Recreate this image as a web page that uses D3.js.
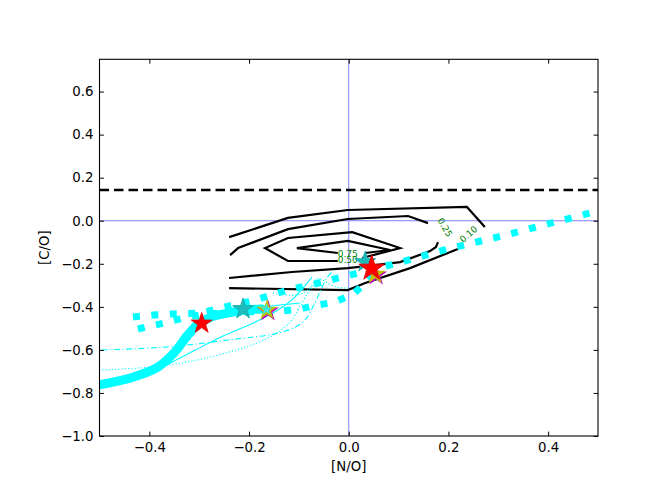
<!DOCTYPE html>
<html>
<head>
<meta charset="utf-8">
<script src="https://cdn.jsdelivr.net/npm/d3@7"></script>
<style>
  body { margin: 0; background: #fff; }
  text { font-family: "DejaVu Sans", sans-serif; }
</style>
</head>
<body>
<div id="chart"></div>
<script>
// ---- data ([N/O], [C/O]) ----
const xTicks = [-0.4, -0.2, 0.0, 0.2, 0.4]
const yTicks = [-1.0, -0.8, -0.6, -0.4, -0.2, 0.0, 0.2, 0.4, 0.6]
const solarCO = 0.143

// contour levels, each split where the label sits
const contour010 = [
  [[-0.240, -0.076], [-0.122, 0.013], [-0.002, 0.050], [0.237, 0.064], [0.273, -0.029]],
  [[0.219, -0.131], [0.123, -0.220], [0.033, -0.289], [-0.002, -0.322], [-0.240, -0.313]]
]
const contour025 = [
  [[-0.238, -0.160], [-0.222, -0.127], [-0.122, -0.039], [-0.002, 0.008], [0.119, 0.022], [0.159, -0.011]],
  [[0.179, -0.099], [0.175, -0.122], [0.163, -0.141], [0.103, -0.192], [0.053, -0.206], [-0.002, -0.220], [-0.114, -0.238], [-0.240, -0.266]]
]
const contour050 = [
  [[0.027, -0.173], [0.103, -0.127], [0.007, -0.053], [-0.122, -0.080], [-0.168, -0.127], [-0.122, -0.187], [-0.022, -0.187]]
]
const contour075 = [
  [[0.033, -0.150], [0.083, -0.136], [-0.002, -0.094], [-0.104, -0.127], [-0.022, -0.150]]
]
const labelText = ['0.75', '0.50', '0.25', '0.10']
const labelNO = [-0.002, -0.002, 0.193, 0.240]
const labelCO = [-0.152, -0.183, -0.031, -0.062]
const labelAngle = [0, 0, 60, -41]

// model tracks
const trackUpper = [[-0.433, -0.447], [-0.393, -0.438], [-0.355, -0.433], [-0.296, -0.429], [-0.258, -0.406],
  [-0.188, -0.368], [-0.122, -0.322], [-0.052, -0.285], [-0.014, -0.262], [0.097, -0.197],
  [0.199, -0.131], [0.307, -0.071], [0.414, -0.006], [0.500, 0.045]]
const trackLower = [[-0.423, -0.503], [-0.407, -0.494], [-0.369, -0.475], [-0.333, -0.452], [-0.288, -0.433],
  [-0.218, -0.424], [-0.132, -0.419], [-0.098, -0.410], [-0.064, -0.392], [-0.028, -0.378],
  [0.009, -0.340], [0.035, -0.285], [0.059, -0.234]]
const trackThick = [[-0.520, -0.770], [-0.439, -0.731], [-0.383, -0.680], [-0.349, -0.610], [-0.323, -0.531],
  [-0.302, -0.480], [-0.276, -0.447], [-0.242, -0.429], [-0.208, -0.415], [-0.174, -0.410]]
const thinDashDot = [[-0.520, -0.602], [-0.369, -0.587], [-0.242, -0.554], [-0.134, -0.517], [-0.092, -0.471],
  [-0.070, -0.392], [-0.056, -0.322], [-0.044, -0.266], [-0.030, -0.229]]
const thinDotted = [[-0.520, -0.695], [-0.419, -0.684], [-0.349, -0.666], [-0.278, -0.633], [-0.208, -0.587],
  [-0.158, -0.540], [-0.118, -0.471], [-0.094, -0.382], [-0.078, -0.322], [-0.062, -0.280]]
const thinSolid = [[-0.369, -0.675], [-0.308, -0.601], [-0.248, -0.531], [-0.188, -0.471], [-0.142, -0.415],
  [-0.114, -0.368], [-0.090, -0.308], [-0.074, -0.262]]
const thinFlat = [[-0.242, -0.424], [-0.174, -0.401], [-0.098, -0.382]]
const thinDashed = [[-0.363, -0.661], [-0.335, -0.591], [-0.308, -0.522], [-0.294, -0.475]]
const thinHook = [[-0.152, -0.336], [-0.102, -0.345], [-0.078, -0.313], [-0.066, -0.273], [-0.060, -0.268],
  [-0.026, -0.308], [-0.001, -0.312]]

// star markers
const starNO = [-0.212, -0.164, -0.295, 0.033, 0.053, 0.046]
const starCO = [-0.410, -0.415, -0.477, -0.192, -0.248, -0.221]
const starKind = ['c', 'ymc', 'r', 'c', 'ym', 'r']
const starBig = [false, false, false, false, false, true]

// ---- layout ----
const width = 664
const height = 498
const padL = 99.5, padR = 598, padT = 59.3, padB = 436

const x = d3.scaleLinear().domain([-0.5, 0.5]).range([padL, padR])
const y = d3.scaleLinear().domain([-1, 0.75]).range([padB, padT])

const svg = d3.select('#chart').append('svg')
  .attr('width', width).attr('height', height)

svg.append('defs').append('clipPath').attr('id', 'plot')
  .append('rect')
  .attr('x', padL).attr('y', padT)
  .attr('width', padR - padL).attr('height', padB - padT)

const line = d3.line().x(d => x(d[0])).y(d => y(d[1]))
const g = svg.append('g').attr('clip-path', 'url(#plot)')

// zero lines
g.append('line')
  .attr('x1', x(0)).attr('x2', x(0)).attr('y1', padT).attr('y2', padB)
  .attr('stroke', '#8080ff').attr('stroke-width', 1)
g.append('line')
  .attr('x1', padL).attr('x2', padR).attr('y1', y(0)).attr('y2', y(0))
  .attr('stroke', '#8080ff').attr('stroke-width', 1)

// solar C/O
g.append('line')
  .attr('x1', padL).attr('x2', padR).attr('y1', y(solarCO)).attr('y2', y(solarCO))
  .attr('stroke', 'black').attr('stroke-width', 2.6)
  .attr('stroke-dasharray', '9.5,5')

// contours
const contours = [].concat(contour010, contour025, contour050, contour075)
g.append('g')
  .selectAll('path')
  .data(contours)
  .join('path')
  .attr('d', line)
  .attr('fill', 'none')
  .attr('stroke', 'black')
  .attr('stroke-width', 2.2)
  .attr('stroke-linejoin', 'miter')

g.append('g')
  .selectAll('text')
  .data(labelText)
  .join('text')
  .attr('transform', (d, i) => `translate(${x(labelNO[i])},${y(labelCO[i])}) rotate(${labelAngle[i]})`)
  .attr('text-anchor', 'middle')
  .attr('dy', '0.35em')
  .style('font-size', '9px')
  .attr('fill', 'green')
  .text(d => d)

// thin tracks
const smooth = d3.line().x(d => x(d[0])).y(d => y(d[1])).curve(d3.curveCatmullRom)
const thin = [
  { pts: thinDashDot, dash: '6,2.5,1.2,2.5' },
  { pts: thinDotted, dash: '1.2,2' },
  { pts: thinSolid, dash: null },
  { pts: thinFlat, dash: null },
  { pts: thinDashed, dash: '4,2' },
  { pts: thinHook, dash: '1.2,2' }
]
g.append('g')
  .selectAll('path')
  .data(thin)
  .join('path')
  .attr('d', d => smooth(d.pts))
  .attr('fill', 'none')
  .attr('stroke', '#00ffff')
  .attr('stroke-width', 1.1)
  .attr('stroke-dasharray', d => d.dash)

// thick track
g.append('path')
  .attr('d', smooth(trackThick))
  .attr('fill', 'none')
  .attr('stroke', '#00ffff')
  .attr('stroke-width', 9)
  .attr('stroke-linecap', 'round')

// dotted tracks
g.append('g')
  .selectAll('path')
  .data([trackUpper, trackLower])
  .join('path')
  .attr('d', line)
  .attr('fill', 'none')
  .attr('stroke', '#00ffff')
  .attr('stroke-width', 7)
  .attr('stroke-dasharray', '7,11.5')

// stars
const star = R => d3.symbol().type(d3.symbolStar).size(R * R / 0.8908)()
const sg = svg.append('g')
starKind.forEach((k, i) => {
  const px = x(starNO[i]), py = y(starCO[i])
  if (k === 'c') {
    sg.append('path').attr('d', star(11)).attr('transform', `translate(${px},${py})`)
      .attr('fill', '#1cbcbc').attr('stroke', '#10a8a8').attr('stroke-width', 0.8)
  } else if (k === 'r') {
    sg.append('path').attr('d', star(starBig[i] ? 13.5 : 11)).attr('transform', `translate(${px},${py})`)
      .attr('fill', 'red').attr('stroke', '#e00000').attr('stroke-width', 0.8)
  } else {
    sg.append('path').attr('d', star(11.5)).attr('transform', `translate(${px + 1},${py + 1})`)
      .attr('fill', '#bf00bf')
    sg.append('path').attr('d', star(11)).attr('transform', `translate(${px},${py})`)
      .attr('fill', '#bfbf00')
    if (k === 'ymc') {
      sg.append('path').attr('d', star(6.5)).attr('transform', `translate(${px - 0.5},${py - 0.5})`)
        .attr('fill', '#30e8e8')
    }
  }
})

// axes: ticks inward on all four sides
const fmt = d3.format('.1f')
const axB = svg.append('g').attr('transform', `translate(0,${padB})`)
  .call(d3.axisBottom(x).tickValues(xTicks).tickFormat(fmt).tickSizeInner(-4.4).tickSizeOuter(0).tickPadding(7))
const axL = svg.append('g').attr('transform', `translate(${padL},0)`)
  .call(d3.axisLeft(y).tickValues(yTicks).tickFormat(fmt).tickSizeInner(-4.4).tickSizeOuter(0).tickPadding(6))
const axT = svg.append('g').attr('transform', `translate(0,${padT})`)
  .call(d3.axisTop(x).tickValues(xTicks).tickFormat('').tickSizeInner(-4.4).tickSizeOuter(0))
const axR = svg.append('g').attr('transform', `translate(${padR},0)`)
  .call(d3.axisRight(y).tickValues(yTicks).tickFormat('').tickSizeInner(-4.4).tickSizeOuter(0))

;[axB, axL, axT, axR].forEach(a => {
  a.select('.domain').remove()
  a.selectAll('text').style('font-size', '13.3px').attr('fill', 'black')
  a.selectAll('line').attr('stroke', 'black').attr('stroke-width', 1)
})

svg.append('rect')
  .attr('x', padL).attr('y', padT)
  .attr('width', padR - padL).attr('height', padB - padT)
  .attr('fill', 'none').attr('stroke', 'black').attr('stroke-width', 1.1)

svg.append('text')
  .attr('x', (padL + padR) / 2).attr('y', 471)
  .attr('text-anchor', 'middle')
  .style('font-size', '13.3px')
  .text('[N/O]')

svg.append('text')
  .attr('transform', `translate(49,${(padT + padB) / 2}) rotate(-90)`)
  .attr('text-anchor', 'middle')
  .style('font-size', '13.3px')
  .text('[C/O]')
</script>
</body>
</html>
